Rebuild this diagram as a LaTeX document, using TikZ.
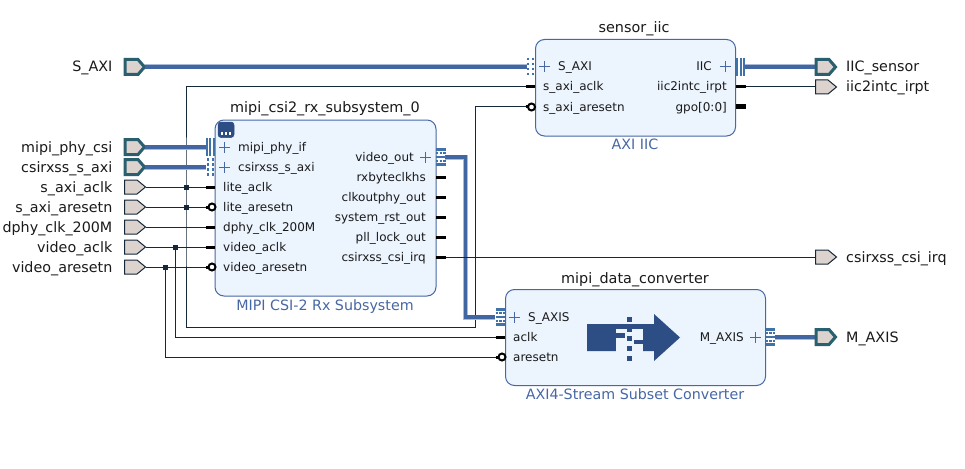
\documentclass[tikz,border=0pt]{standalone}
\usepackage{fontspec}
\setmainfont{DejaVu Sans}
\definecolor{blockfill}{HTML}{ECF4FE}
\definecolor{blockedge}{HTML}{4767A5}
\definecolor{bus}{HTML}{4266A2}
\definecolor{busedge}{HTML}{A9BBD8}
\definecolor{pinblue}{HTML}{3F72A8}
\definecolor{netc}{HTML}{14283A}
\definecolor{portfill}{HTML}{DDD3CE}
\definecolor{portedge}{HTML}{2A5F70}
\definecolor{icon}{HTML}{2C4E85}
\definecolor{txt}{HTML}{1A1A1A}
\tikzset{
  x=1pt,y=-1pt,
  blockbox/.style={draw=blockedge,line width=1pt,fill=blockfill,rounded corners=9pt,inner sep=0,anchor=north west},
  title/.style={font=\fontsize{14.4}{16}\selectfont,text=txt,anchor=base,inner sep=0},
  subtitle/.style={font=\fontsize{14.25}{16}\selectfont,text=blockedge,anchor=base,inner sep=0},
  portlab/.style={font=\fontsize{14.3}{16}\selectfont,text=txt,inner sep=0},
  pinlab/.style={font=\fontsize{12}{14}\selectfont,text=txt,inner sep=0},
  net/.style={draw=netc,line width=1pt},
  jct/.style={fill=netc,draw=none,minimum size=5pt,inner sep=0,rectangle},
  stub/.style={draw=black,line width=3pt},
  bubble/.style={draw=black,line width=2pt,fill=white,circle,minimum size=7pt,inner sep=0},
  plussign/.style={draw=blockedge,line width=1pt},
  barpin/.style={draw=pinblue,line width=2pt},
  dotpin/.style={draw=pinblue,line width=2pt,dash pattern=on 2.5pt off 2.5pt},
}
% big port: name, x, y
\newcommand{\bigport}[3]{%
  \draw[portedge,line width=3pt,fill=portfill,line join=miter]
    (#2+1,#3-7.5)--(#2+14,#3-7.5)--(#2+20.5,#3)--(#2+14,#3+7.5)--(#2+1,#3+7.5)--cycle;
  \coordinate (#1) at (#2+21,#3);}
\newcommand{\smallport}[3]{%
  \draw[netc,line width=1pt,fill=portfill]
    (#2+0.5,#3-7)--(#2+13,#3-7)--(#2+21.5,#3)--(#2+13,#3+7)--(#2+0.5,#3+7)--cycle;
  \coordinate (#1) at (#2+22,#3);}
\newcommand{\buswire}[1]{%
  \draw[busedge,line width=5pt] #1;
  \draw[bus,line width=3.6pt] #1;}
\newcommand{\pluss}[2]{\draw[plussign] (#1-5.5,#2)--(#1+5.5,#2) (#1,#2-5.5)--(#1,#2+5.5);}
\newcommand{\threebars}[2]{% left x, centre y
  \foreach \d in {1,4.5,8}{\draw[barpin] (#1+\d,#2-9)--(#1+\d,#2+9);}}
\newcommand{\dotbars}[2]{%
  \foreach \d in {1.5,6.5}{\draw[dotpin] (#1+\d,#2-9)--(#1+\d,#2+9);}}
\newcommand{\stripes}[2]{%
  \foreach \o in {-7.7,0,7.7}{\draw[pinblue,line width=2.6pt] (#1,#2+\o)--(#1+9.5,#2+\o);}
  \foreach \o in {-3.8,3.8}{\draw[pinblue,line width=2.3pt,dash pattern=on 2.4pt off 1.2pt] (#1,#2+\o)--(#1+9.5,#2+\o);}}
\begin{document}
\begin{tikzpicture}
\useasboundingbox (0,0) rectangle (965,468);
\fill[white] (0,0) rectangle (965,468);

% ports, left
\bigport{pSAXI}{124}{67}
\bigport{pMipi}{124}{147}
\bigport{pCsi}{124}{167}
\smallport{pAclk}{124}{187}
\smallport{pAres}{124}{207}
\smallport{pDphy}{124}{227}
\smallport{pVclk}{124}{247}
\smallport{pVres}{124}{267}
% ports, right
\coordinate (qIIC) at (815,67);
\coordinate (qIrpt) at (815,87);
\coordinate (qCsi) at (815,257);
\coordinate (qMaxis) at (815,337);

% anchors on blocks
\coordinate (iSAXI) at (527,67);
\coordinate (iAclk) at (530,87);
\coordinate (iAres) at (530,107);
\coordinate (oIIC) at (745,67);
\coordinate (oIrpt) at (740,87);
\coordinate (mMipi) at (207,147);
\coordinate (mCsi) at (206,167);
\coordinate (mLite) at (210,187);
\coordinate (mLres) at (210,207);
\coordinate (mDphy) at (210,227);
\coordinate (mVclk) at (210,247);
\coordinate (mVres) at (210,267);
\coordinate (mOut) at (445,157);
\coordinate (mIrq) at (440,257);
\coordinate (cAxis) at (495,317);
\coordinate (cAclk) at (500,337);
\coordinate (cAres) at (500,357);
\coordinate (cMaxis) at (775,337);

% nets
\node[jct] (j1) at (186,187) {};
\node[jct] (j2) at (186,207) {};
\node[jct] (j3) at (175,247) {};
\node[jct] (j4) at (165,267) {};
\coordinate (tc1) at (186,87);
\coordinate (bc1) at (186,327);
\coordinate (rc1) at (475,327);
\coordinate (rc2) at (475,107);
\coordinate (bc2) at (175,337);
\coordinate (bc3) at (165,357);
\draw[net] (pAclk)--(mLite);
\draw[net] (pAres)--(mLres);
\draw[net] (pDphy)--(mDphy);
\draw[net] (pVclk)--(mVclk);
\draw[net] (pVres)--(mVres);
\draw[net] (iAclk)--(tc1)--(j1.center)--(j2.center)--(bc1)--(rc1)--(rc2)--(iAres);
\draw[net] (j3.center)--(bc2)--(cAclk);
\draw[net] (j4.center)--(bc3)--(cAres);
\draw[net] (oIrpt)--(qIrpt);
\draw[net] (mIrq)--(qCsi);
% buses
\coordinate (bv1) at (465.5,157);
\coordinate (bv2) at (465.5,317);
\buswire{(pSAXI)--(iSAXI)}
\buswire{(pMipi)--(mMipi)}
\buswire{(pCsi)--(mCsi)}
\buswire{(oIIC)--(qIIC)}
\buswire{(mOut)--(bv1)--(bv2)--(cAxis)}
\buswire{(cMaxis)--(qMaxis)}
\draw[net] (mIrq)--(qCsi);

% right ports drawn over wires
\bigport{rIIC}{815}{67}
\smallport{rIrpt}{815}{87}
\smallport{rCsi}{815}{257}
\bigport{rMaxis}{815}{337}

% blocks
\node[blockbox,minimum width=221pt,minimum height=176pt] (mipi) at (214.5,119.5) {};
\node[blockbox,minimum width=200pt,minimum height=96.5pt] (iic) at (535,39) {};
\node[blockbox,minimum width=260pt,minimum height=96pt] (conv) at (505,289) {};

% pin stubs
\foreach \y in {187,227,247}{\draw[stub] (205.5,\y)--(215,\y);}
\foreach \y in {207,267}{\draw[stub] (205.5,\y)--(212,\y); \node[bubble] at (212,\y) {};}
\foreach \y in {177,197,217,237,257}{\draw[stub] (436,\y)--(446,\y);}
\draw[stub] (525.5,87)--(535,87);
\draw[stub] (525.5,107)--(532,107); \node[bubble] at (531.5,107) {};
\draw[stub] (736,87)--(745.5,87);
\draw[black,line width=5pt] (736,107)--(746,107);
\draw[stub] (495.5,337)--(505,337);
\draw[stub] (495.5,357)--(502,357); \node[bubble] at (502,357) {};

% interface pins
\threebars{205.5}{147}
\dotbars{206}{167}
\dotbars{526.5}{67}
\threebars{736}{67}
\stripes{436}{157}
\stripes{495.5}{317}
\stripes{765.5}{337}

% plus signs
\pluss{224.5}{147}
\pluss{224.5}{167}
\pluss{425.5}{157}
\pluss{544.5}{67}
\pluss{725.5}{67}
\pluss{514.5}{317}
\pluss{755.5}{337}

% mipi icon
\draw[icon,fill=icon,line width=0.5pt,rounded corners=3pt] (218,122)--(234,122)--(234,137.5)--(218,137.5)--cycle;
\foreach \x in {222,226,230}{\fill[white] (\x-1.4,132.3) rectangle (\x+1.4,135.3);}

% converter icon
\fill[icon] (587,324)--(654,324)--(654,314)--(680,337.5)--(654,361)--(654,351)--(587,351)--cycle;
\fill[blockfill] (616,329) rectangle (643,351.5);
\fill[icon] (616,333.3) rectangle (625,337.7);
\fill[icon] (634,340) rectangle (643,344.3);
\foreach \y in {317,327,336.3,346.3,356}{\fill[icon] (627,\y) rectangle (632,\y+4.7);}

% titles
\node[title] (tMipi) at (325,113) {mipi\_csi2\_rx\_subsystem\_0};
\node[title] (tIic) at (634,33) {sensor\_iic};
\node[title] (tConv) at (635,283) {mipi\_data\_converter};
\node[subtitle] (sMipi) at (325,310) {MIPI CSI-2 Rx Subsystem};
\node[subtitle] (sIic) at (635,149) {AXI IIC};
\node[subtitle] (sConv) at (635,399) {AXI4-Stream Subset Converter};

% port labels, left
\foreach \n/\y/\t in {a/67/S\_AXI,b/147/mipi\_phy\_csi,c/167/csirxss\_s\_axi,d/187/s\_axi\_aclk,e/207/s\_axi\_aresetn,f/227/dphy\_clk\_200M,g/247/video\_aclk,h/267/video\_aresetn}
  {\node[portlab,anchor=base east] (L\n) at (112.5,\y+5) {\t};}
% port labels, right
\foreach \n/\y/\t in {a/67/IIC\_sensor,b/87/iic2intc\_irpt,c/257/csirxss\_csi\_irq,d/337/M\_AXIS}
  {\node[portlab,anchor=base west] (R\n) at (846,\y+5) {\t};}

% pin labels
\foreach \n/\x/\y/\t in {a/238/147/mipi\_phy\_if,b/238/167/csirxss\_s\_axi,c/223/187/lite\_aclk,d/223/207/lite\_aresetn,e/223/227/dphy\_clk\_200M,f/223/247/video\_aclk,g/223/267/video\_aresetn,h/558/67/S\_AXI,i/543/87/s\_axi\_aclk,j/543/107/s\_axi\_aresetn,k/528/317/S\_AXIS,l/513/337/aclk,m/513/357/aresetn}
  {\node[pinlab,anchor=base west] (P\n) at (\x,\y+4) {\t};}
\foreach \n/\x/\y/\t in {a/414/157/video\_out,b/426/177/rxbyteclkhs,c/426/197/clkoutphy\_out,d/426/217/system\_rst\_out,e/426/237/pll\_lock\_out,f/426/257/csirxss\_csi\_irq,g/712/67/IIC,h/727/87/iic2intc\_irpt,i/727/107/gpo[0:0],j/744/337/M\_AXIS}
  {\node[pinlab,anchor=base east] (Q\n) at (\x,\y+4) {\t};}
\end{tikzpicture}
\end{document}
